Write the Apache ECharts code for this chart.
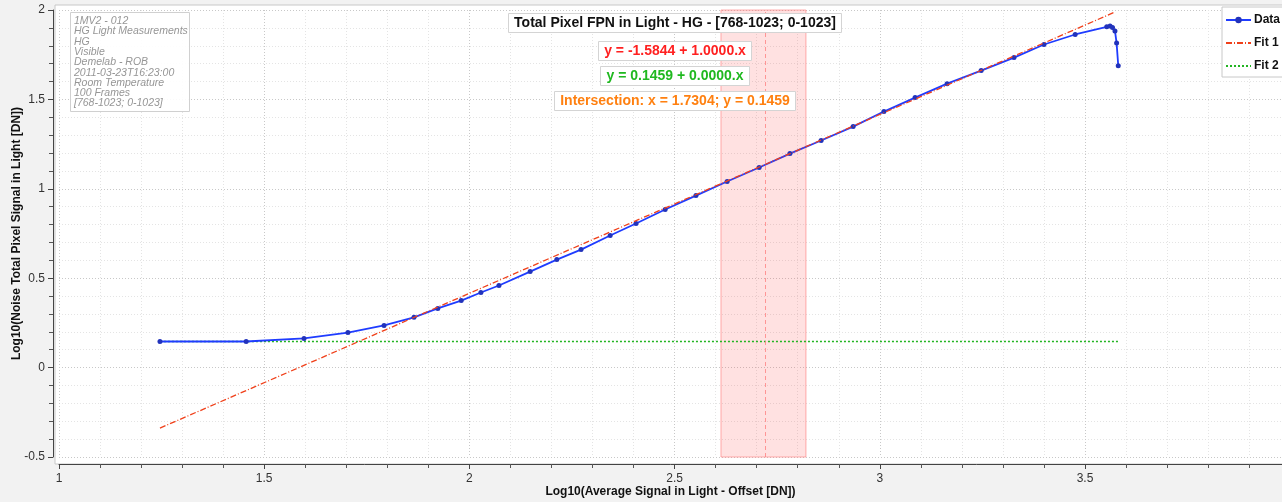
<!DOCTYPE html>
<html><head><meta charset="utf-8">
<script src="https://cdn.jsdelivr.net/npm/echarts@6/dist/echarts.min.js"></script>
<style>html,body{margin:0;padding:0;background:#f2f2f2}#c{width:1282px;height:502px}</style>
</head><body><div id="c"></div>
<script>
const dataX = [1.246, 1.456, 1.597, 1.704, 1.792, 1.865, 1.923, 1.980, 2.028, 2.072, 2.148, 2.213, 2.272, 2.343, 2.406, 2.477, 2.552, 2.628, 2.706, 2.781, 2.857, 2.935, 3.010, 3.086, 3.164, 3.247, 3.327, 3.400, 3.476, 3.553, 3.561, 3.567, 3.573, 3.577, 3.581];
const dataY = [0.146, 0.146, 0.163, 0.196, 0.236, 0.281, 0.331, 0.375, 0.420, 0.459, 0.537, 0.604, 0.660, 0.739, 0.806, 0.884, 0.962, 1.041, 1.119, 1.197, 1.270, 1.348, 1.432, 1.510, 1.588, 1.661, 1.734, 1.807, 1.863, 1.906, 1.910, 1.902, 1.883, 1.815, 1.688];
const fit1Intercept = -1.5844, fit1Slope = 1.0;
const fit2Intercept = 0.1459, fit2Slope = 0.0;
const fit1Range = [1.246, 3.573];
const fit2Range = [1.246, 3.581];
const band = [2.613, 2.820];
const bandCenter = 2.717;
const infoLines = ['1MV2 - 012','HG Light Measurements','HG','Visible','Demelab - ROB','2011-03-23T16:23:00','Room Temperature','100 Frames','[768-1023; 0-1023]'];
const titleText = 'Total Pixel FPN in Light - HG - [768-1023; 0-1023]';
const fit1Text = 'y = -1.5844 + 1.0000.x';
const fit2Text = 'y = 0.1459 + 0.0000.x';
const interText = 'Intersection: x = 1.7304; y = 0.1459';

const fit1 = fit1Range.map(x => [x, fit1Intercept + fit1Slope * x]);
const fit2 = fit2Range.map(x => [x, fit2Intercept + fit2Slope * x]);
const data = dataX.map((x, i) => [x, dataY[i]]);

const FONT = 'Liberation Sans';
const chart = echarts.init(document.getElementById('c'));
function box(text, top, color) {
  return {
    text: text, left: 669, top: top, textAlign: 'center',
    backgroundColor: '#ffffff', borderColor: '#d4d4d4', borderWidth: 1,
    padding: [3, 6, 3, 6],
    textStyle: {color: color, fontSize: 14, fontWeight: 'bold', fontFamily: FONT}
  };
}
chart.setOption({
  backgroundColor: '#f2f2f2',
  animation: false,
  title: [
    box(titleText, 13, '#111111'),
    box(fit1Text, 41, '#ff2020'),
    box(fit2Text, 66, '#1fb81f'),
    box(interText, 91, '#ff8010'),
    {
      text: infoLines.join('\n'), left: 70, top: 13,
      backgroundColor: 'rgba(255,255,255,0.9)', borderColor: '#d0d0d0', borderWidth: 1,
      padding: [3, 2, 3, 4],
      textStyle: {color: '#969696', fontSize: 10.5, fontStyle: 'italic', fontWeight: 'normal', fontFamily: FONT, lineHeight: 10.3}
    }
  ],
  graphic: [
    {type: 'rect', z: -10, silent: true, shape: {x: 55, y: 5, width: 1240, height: 459},
     style: {fill: '#ffffff', stroke: '#c8c8c8', lineWidth: 1}}
  ],
  grid: {left: 59, right: 0, top: 10, bottom: 45, containLabel: false, outerBoundsMode: 'none'},
  legend: {
    orient: 'vertical', left: 1222, top: 7, backgroundColor: '#ffffff',
    borderColor: '#c8c8c8', borderWidth: 1, padding: [7, 20, 5, 3],
    itemWidth: 25, itemHeight: 8, itemGap: 11,
    textStyle: {fontSize: 12, fontWeight: 'bold', color: '#111', fontFamily: FONT, padding: [0, 0, 0, -2]},
    data: [
      {name: 'Data'},
      {name: 'Fit 1', itemStyle: {color: 'rgba(0,0,0,0)', borderWidth: 0}},
      {name: 'Fit 2', itemStyle: {color: 'rgba(0,0,0,0)', borderWidth: 0}}
    ]
  },
  xAxis: {
    type: 'value', min: 1, max: 3.98, interval: 0.5, offset: 7,
    name: 'Log10(Average Signal in Light - Offset [DN])', nameLocation: 'middle', nameGap: 22,
    nameMoveOverlap: false,
    nameTextStyle: {fontWeight: 'bold', fontSize: 12, color: '#111', fontFamily: FONT},
    axisLine: {show: true, onZero: false, lineStyle: {color: '#444'}},
    axisTick: {show: true, length: 5, lineStyle: {color: '#444'}},
    minorTick: {show: true, splitNumber: 5, length: 4, lineStyle: {color: '#555'}},
    axisLabel: {color: '#333', fontSize: 12, fontFamily: FONT, margin: 9, showMaxLabel: false},
    splitLine: {show: true, lineStyle: {color: '#c8c8c8', type: [1, 2]}},
    minorSplitLine: {show: true, lineStyle: {color: '#e4e4e4', type: [1, 2]}}
  },
  yAxis: {
    type: 'value', min: -0.5, max: 2, interval: 0.5, offset: 6,
    name: 'Log10(Noise Total Pixel Signal in Light [DN])', nameLocation: 'middle', nameGap: 30,
    nameMoveOverlap: false,
    nameTextStyle: {fontWeight: 'bold', fontSize: 12, color: '#111', fontFamily: FONT},
    axisLine: {show: true, onZero: false, lineStyle: {color: '#444'}},
    axisTick: {show: true, length: 5, lineStyle: {color: '#444'}},
    minorTick: {show: true, splitNumber: 5, length: 4, lineStyle: {color: '#555'}},
    axisLabel: {color: '#333', fontSize: 12, fontFamily: FONT, margin: 8},
    splitLine: {show: true, lineStyle: {color: '#c8c8c8', type: [1, 2]}},
    minorSplitLine: {show: true, lineStyle: {color: '#e4e4e4', type: [1, 2]}}
  },
  series: [
    {
      name: 'Fit 2', type: 'line', data: fit2, symbol: 'none', z: 3,
      lineStyle: {color: '#22b422', width: 1.3, type: [2, 2]}, itemStyle: {color: '#22b422'},
      markArea: {silent: true, itemStyle: {color: 'rgba(255,80,80,0.17)', borderColor: 'rgba(255,120,120,0.6)', borderWidth: 1},
        data: [[{xAxis: band[0]}, {xAxis: band[1]}]]},
      markLine: {silent: true, symbol: 'none', label: {show: false},
        lineStyle: {color: 'rgba(255,130,130,0.8)', type: [4, 3], width: 1},
        data: [{xAxis: bandCenter}]}
    },
    {
      name: 'Data', type: 'line', data: data, symbol: 'circle', symbolSize: 5, z: 4,
      lineStyle: {color: '#1f3cff', width: 1.8}, itemStyle: {color: '#2233bb'}
    },
    {
      name: 'Fit 1', type: 'line', data: fit1, symbol: 'none', z: 5,
      lineStyle: {color: '#f0401a', width: 1.3, type: [6, 2, 1, 2]}, itemStyle: {color: '#f0401a'}
    }
  ]
});
</script></body></html>
